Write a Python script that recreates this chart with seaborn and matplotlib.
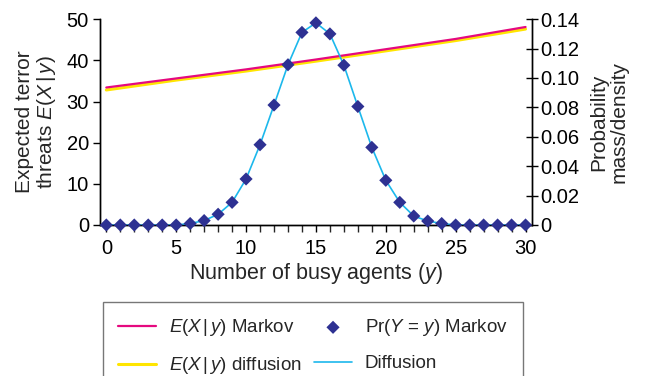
import numpy as np
import pandas as pd
import matplotlib
matplotlib.use("Agg")
import matplotlib.pyplot as plt
import seaborn as sns
from matplotlib.ticker import FuncFormatter, MultipleLocator

# --- data ---
busy = list(range(31))
pr_markov = [0, 0, 0, 0, 0, 0, 0.001, 0.003, 0.0073, 0.0154, 0.0313,
             0.0546, 0.0816, 0.109, 0.131, 0.1375, 0.130, 0.1087, 0.0806,
             0.0528, 0.0304, 0.0154, 0.0061, 0.0027, 0.001, 0, 0, 0, 0, 0, 0]
pr_diffusion = pr_markov
line_y = [0, 5, 10, 15, 20, 25, 30]
e_markov = [33.4, 35.6, 37.8, 40.2, 42.7, 45.2, 48.1]
e_diffusion = [32.8, 35.2, 37.4, 39.8, 42.3, 44.8, 47.6]

pr_df = pd.DataFrame({"y": busy, "markov": pr_markov, "diffusion": pr_diffusion})
e_df = pd.DataFrame({"y": line_y, "markov": e_markov, "diffusion": e_diffusion})

sns.set_style("ticks")
plt.rcParams["font.family"] = ["Liberation Sans", "DejaVu Sans"]
plt.rcParams["mathtext.fontset"] = "custom"
plt.rcParams["mathtext.rm"] = "Liberation Sans"
plt.rcParams["mathtext.it"] = "Liberation Sans:italic"

magenta = "#e5097f"
yellow = "#ffe500"
cyan = "#1cb8ec"
navy = "#2e3192"

fig = plt.figure(figsize=(6.47, 3.76), dpi=100)
ax = fig.add_axes([0.1546, 0.4016, 0.6674, 0.5474])
ax2 = ax.twinx()

sns.lineplot(data=e_df, x="y", y="diffusion", ax=ax, color=yellow, lw=2.2,
             label=r"$E(X\,|\,y)$ diffusion")
sns.lineplot(data=e_df, x="y", y="markov", ax=ax, color=magenta, lw=1.6,
             label=r"$E(X\,|\,y)$ Markov")
sns.lineplot(data=pr_df, x="y", y="diffusion", ax=ax2, color=cyan, lw=1.2,
             label="Diffusion")
sns.scatterplot(data=pr_df, x="y", y="markov", ax=ax2, color=navy, marker="D",
                s=45, edgecolor="none", zorder=5, clip_on=False,
                label=r"Pr($Y$ = $y$) Markov")

ax.set_xlim(-0.45, 30.45)
ax.set_ylim(0, 50)
ax2.set_ylim(0, 0.14)
ax.xaxis.set_major_locator(MultipleLocator(5))
ax.xaxis.set_minor_locator(MultipleLocator(1))
ax.set_yticks(range(0, 51, 10))
ax2.set_yticks(np.arange(0, 0.141, 0.02))
ax2.yaxis.set_major_formatter(FuncFormatter(lambda v, p: "0" if v == 0 else f"{v:.2f}"))

for a in (ax, ax2):
    a.spines["top"].set_visible(False)
    for s in a.spines.values():
        s.set_linewidth(1.0)
        s.set_color("black")
    a.tick_params(labelsize=14.5, colors="black", width=1.0, length=5, pad=3)
    if a.get_legend():
        a.get_legend().remove()
ax.tick_params(axis="x", which="minor", length=5, width=1.0)
ax.tick_params(axis="x", pad=5)
ax2.tick_params(axis="y", direction="inout", length=8, pad=2)

ax.set_xlabel(r"Number of busy agents ($y$)", fontsize=15.5, labelpad=2)
ax.set_ylabel("Expected terror\n" + r"threats $E(X\,|\,y)$", fontsize=15,
              linespacing=1.05)
ax.yaxis.set_label_coords(-0.097, 0.5)
ax2.set_ylabel("Probability\nmass/density", fontsize=15, linespacing=1.05,
               rotation=90)
ax2.yaxis.set_label_coords(1.134, 0.5)

h1, l1 = ax.get_legend_handles_labels()
h2, l2 = ax2.get_legend_handles_labels()
hd = dict(zip(l1 + l2, h1 + h2))
order = [r"$E(X\,|\,y)$ Markov", r"$E(X\,|\,y)$ diffusion",
         r"Pr($Y$ = $y$) Markov", "Diffusion"]
leg = fig.legend([hd[k] for k in order], order, ncol=2, loc="upper left",
                 bbox_to_anchor=(103 / 647, 1 - 306 / 376, 420 / 647, 0.01),
                 mode="expand", borderaxespad=0, fontsize=13.5, frameon=True,
                 fancybox=False, edgecolor="#555555", handlelength=2.0,
                 handletextpad=0.7, labelspacing=0.9, borderpad=0.8,
                 columnspacing=1.2, markerscale=1.0)
leg.get_frame().set_linewidth(1.0)

fig.savefig("out.png", dpi=100)
